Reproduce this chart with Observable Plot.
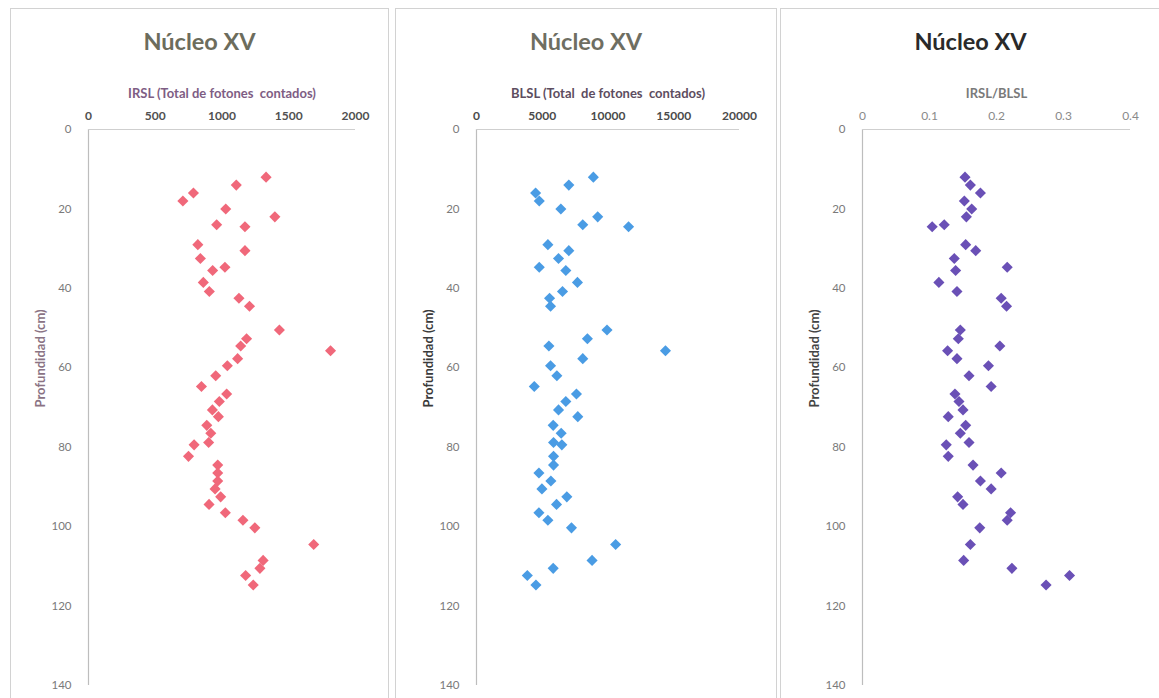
<!DOCTYPE html>
<html>
<head>
<meta charset="utf-8">
<script src="https://cdn.jsdelivr.net/npm/d3@7"></script>
<script src="https://cdn.jsdelivr.net/npm/@observablehq/plot@0.6"></script>
<style>
  html, body { margin: 0; padding: 0; background: #ffffff; width: 1159px; height: 698px; overflow: hidden; }
  .panel { position: absolute; top: 8px; height: 700px; border: 1px solid #d2d2d2; box-sizing: border-box; background: #fff; overflow: hidden; }
  .title { position: absolute; left: 0; right: 0; top: 17px; text-align: center; font-family: Lato, "Open Sans", sans-serif; font-weight: 700; font-size: 23.5px; line-height: 30px; }
  .plot { position: absolute; left: 0; top: 0; }
</style>
</head>
<body>
<div id="root"></div>
<script>
// ---- data ----
const titleText = "Núcleo XV";
const depthLabel = "Profundidad (cm)";
const depth = [12, 14, 16, 18, 20, 22, 24, 24.5, 29, 30.5, 32.5, 34.7, 35.5, 38.5, 40.8, 42.5, 44.5,
  50.5, 52.7, 54.5, 55.7, 57.7, 59.5, 62, 64.7, 66.6, 68.5, 70.6, 72.3, 74.5, 76.5, 78.8, 79.4,
  82.3, 84.5, 86.5, 88.5, 90.5, 92.5, 94.4, 96.5, 98.4, 100.3, 104.5, 108.5, 110.5, 112.3, 114.7];
const irsl = [1330, 1107, 786, 707, 1028, 1396, 960, 1172, 819, 1172, 838, 1022, 930, 860, 905, 1127, 1206,
  1430, 1184, 1140, 1813, 1117, 1040, 953, 846, 1035, 980, 928, 973, 886, 916, 900, 791,
  749, 968, 968, 968, 948, 990, 903, 1025, 1157, 1246, 1687, 1308, 1284, 1177, 1234];
const blsl = [8886, 7020, 4495, 4773, 6414, 9217, 8081, 11565, 5429, 7020, 6237, 4773, 6793, 7677, 6540, 5556, 5631,
  9924, 8434, 5505, 14370, 8081, 5631, 6111, 4394, 7601, 6793, 6237, 7702, 5833, 6439, 5858, 6490,
  5858, 5858, 4747, 5656, 4975, 6869, 6086, 4747, 5429, 7222, 10581, 8788, 5833, 3864, 4520];
const ratio = [0.153, 0.161, 0.176, 0.152, 0.163, 0.155, 0.122, 0.104, 0.154, 0.169, 0.137, 0.216, 0.139, 0.114, 0.141, 0.207, 0.215,
  0.146, 0.143, 0.205, 0.127, 0.141, 0.188, 0.159, 0.192, 0.138, 0.144, 0.150, 0.128, 0.154, 0.146, 0.159, 0.125,
  0.128, 0.165, 0.207, 0.176, 0.192, 0.142, 0.150, 0.221, 0.216, 0.175, 0.161, 0.151, 0.223, 0.309, 0.274];
const depthTicks = [0, 20, 40, 60, 80, 100, 120, 140];
const irslTicks = [0, 500, 1000, 1500, 2000];
const blslTicks = [0, 5000, 10000, 15000, 20000];
const ratioTicks = [0, 0.1, 0.2, 0.3, 0.4];
const irslLabel = "IRSL (Total de fotones  contados)";
const blslLabel = "BLSL (Total  de fotones  contados)";
const ratioLabel = "IRSL/BLSL";

const panels = [
  {left: 10, width: 379, ml: 77, mr: 33, values: irsl, ticks: irslTicks, xLabel: irslLabel,
   color: "#f0687a", titleColor: "#6c6c5c", xLabelColor: "#7e5d84", tickColor: "#505050", tickWeight: 700, yLabelColor: "#8a7384"},
  {left: 395, width: 382, ml: 80, mr: 37, values: blsl, ticks: blslTicks, xLabel: blslLabel,
   color: "#4a9ce4", titleColor: "#6e6e62", xLabelColor: "#5d4d60", tickColor: "#4a4a4a", tickWeight: 700, yLabelColor: "#3a3a3a"},
  {left: 780, width: 381, ml: 81, mr: 30, values: ratio, ticks: ratioTicks, xLabel: ratioLabel,
   color: "#6a50b6", titleColor: "#2a2a2a", xLabelColor: "#7a7a7a", tickColor: "#8a8a8a", tickWeight: 400, yLabelColor: "#444444"}
];

const root = document.getElementById("root");
for (const p of panels) {
  const div = document.createElement("div");
  div.className = "panel";
  div.style.left = p.left + "px";
  div.style.width = p.width + "px";
  const data = depth.map((d, i) => ({depth: d, value: p.values[i]}));
  const chart = Plot.plot({
    width: p.width - 2,
    height: 690,
    marginTop: 120,
    marginBottom: 14,
    marginLeft: p.ml,
    marginRight: p.mr,
    style: {fontFamily: "Lato, 'Open Sans', sans-serif", fontSize: "11.5px", background: "transparent", overflow: "visible"},
    x: {domain: [p.ticks[0], p.ticks[p.ticks.length - 1]]},
    y: {domain: [0, 140], reverse: true},
    marks: [
      Plot.ruleX([0], {stroke: "#bdbdbd", strokeWidth: 1.2}),
      Plot.ruleY([0], {stroke: "#cfcfcf", strokeWidth: 1.2}),
      Plot.axisX(p.ticks, {anchor: "top", tickSize: 0, tickPadding: 10, tickFormat: d => String(d), label: null,
        fill: p.tickColor, fontWeight: p.tickWeight, fontSize: 12}),
      Plot.axisY(depthTicks, {anchor: "left", tickSize: 0, tickPadding: 17, tickFormat: d => String(d), label: null,
        fill: "#7a7a7a", fontSize: 11.5}),
      Plot.text([p.xLabel], {text: d => d, frameAnchor: "top", dy: -41, fill: p.xLabelColor, fontWeight: 700, fontSize: 13}),
      Plot.text([depthLabel], {text: d => d, frameAnchor: "left", dx: -48, rotate: -90, fill: p.yLabelColor, fontWeight: 700, fontSize: 13}),
      Plot.dot(data, {x: "value", y: "depth", symbol: "diamond2", r: 5, fill: p.color, stroke: null})
    ]
  });
  chart.classList.add("plot");
  div.appendChild(chart);
  const t = document.createElement("div");
  t.className = "title";
  t.style.color = p.titleColor;
  t.textContent = titleText;
  div.appendChild(t);
  root.appendChild(div);
}
</script>
</body>
</html>
